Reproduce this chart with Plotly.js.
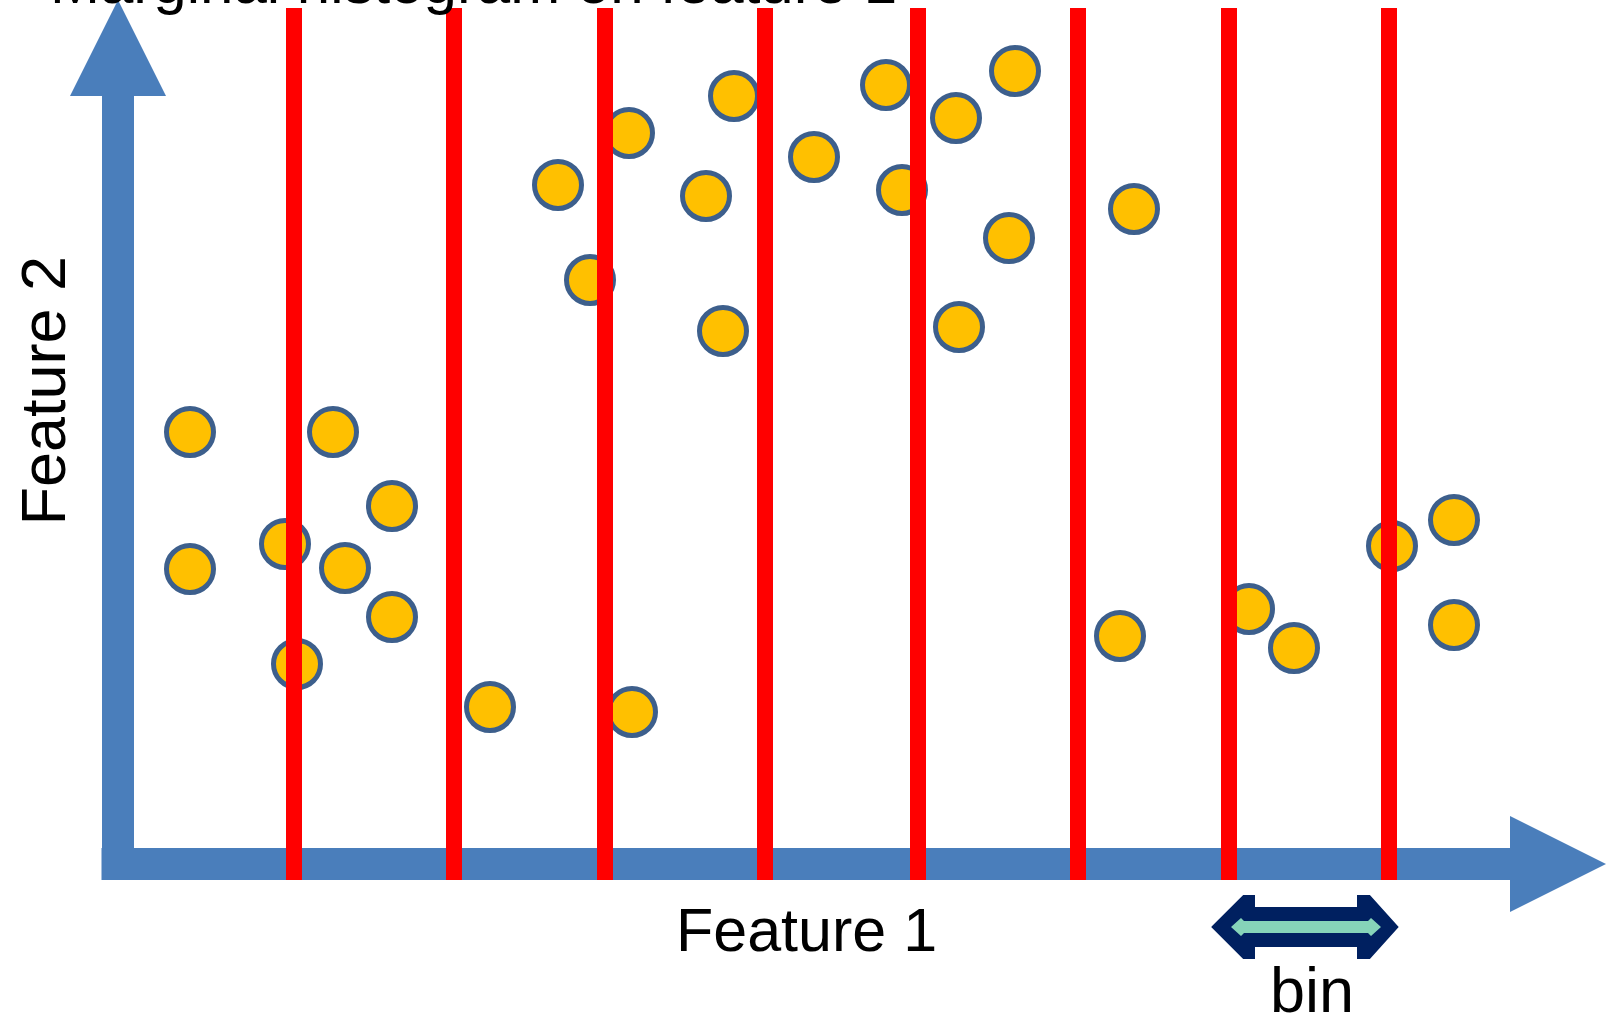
<!DOCTYPE html>
<html>
<head>
<meta charset="utf-8">
<script src="https://cdn.plot.ly/plotly-3.0.1.min.js"></script>
<style>html,body{margin:0;padding:0;background:#fff;}#chart{width:1608px;height:1017px;}</style>
</head>
<body>
<div id="chart"></div>
<script>
// ---- data (feature units; origin at the corner of the drawn axes) ----
const feature1 = [0.72, 2.15, 2.74, 1.67, 0.72, 2.27, 2.74, 1.79, 3.72, 5.14,
                  4.40, 4.72, 5.11, 5.88, 6.16, 6.05, 6.96, 7.68, 7.84, 8.38,
                  8.97, 8.91, 8.41, 10.16, 10.02, 11.31, 11.76, 12.74, 13.36, 13.36];
const feature2 = [4.32, 4.32, 3.58, 3.20, 2.95, 2.96, 2.47, 2.00, 1.57, 1.52,
                  6.79, 5.84, 7.31, 6.68, 7.68, 5.33, 7.07, 7.79, 6.74, 7.46,
                  7.93, 6.26, 5.37, 6.55, 2.28, 2.55, 2.16, 3.18, 3.44, 2.39];
const binEdges = [1.76, 3.36, 4.87, 6.47, 8.00, 9.60, 11.11, 12.71];
const binLineTop = 8.56;
const binLineBottom = -0.16;

const titleText = "Marginal histogram on feature 1";
const xLabel = "Feature 1";
const yLabel = "Feature 2";
const binLabel = "bin";

// ---- layout helpers ----
const W = 1608, H = 1017;
const OX = 118, OY = 864, UNIT = 100;   // pixel position of origin, pixels per unit
const X = px => (px - OX) / UNIT;
const Y = py => (OY - py) / UNIT;
const path = pts => 'M' + pts.map(p => X(p[0]) + ',' + Y(p[1])).join(' L') + ' Z';
const FONT = 'Liberation Sans, Arial, sans-serif';

const AXIS_BLUE = '#4A7EBB';
const NAVY = '#002060';
const TEAL = '#86D4B9';

// bin arrow anchored on the last bin
const bL = OX + binEdges[6] * UNIT, bR = OX + binEdges[7] * UNIT;
const aL = bL - 15, aR = bR + 7, aC = 927;
const navyArrow = [[aL, aC], [aL + 30, aC - 30], [aL + 39, aC - 30], [aL + 39, aC - 18],
                   [aR - 37, aC - 18], [aR - 37, aC - 30], [aR - 27, aC - 30], [aR, aC],
                   [aR - 27, aC + 30], [aR - 37, aC + 30], [aR - 37, aC + 18],
                   [aL + 39, aC + 18], [aL + 39, aC + 30], [aL + 30, aC + 30]];
const tL = aL + 17, tR = aR - 15;
const tealArrow = [[tL, aC], [tL + 10, aC - 9], [tL + 13, aC - 6], [tR - 13, aC - 6],
                   [tR - 10, aC - 9], [tR, aC], [tR - 10, aC + 9], [tR - 13, aC + 6],
                   [tL + 13, aC + 6], [tL + 10, aC + 9]];

const shapes = [
  { type: 'path', xref: 'x', yref: 'y', layer: 'below',
    path: path([[101.5, 848], [1510, 848], [1510, 816], [1606, 864], [1510, 912], [1510, 880], [101.5, 880]]),
    fillcolor: AXIS_BLUE, line: { width: 0 } },
  { type: 'path', xref: 'x', yref: 'y', layer: 'below',
    path: path([[102, 880], [102, 96], [70, 96], [118, 0], [166, 96], [134, 96], [134, 880]]),
    fillcolor: AXIS_BLUE, line: { width: 0 } },
  { type: 'path', xref: 'x', yref: 'y', layer: 'above',
    path: path(navyArrow), fillcolor: NAVY, line: { color: NAVY, width: 4 } },
  { type: 'path', xref: 'x', yref: 'y', layer: 'above',
    path: path(tealArrow), fillcolor: TEAL, line: { width: 0 } }
];

const lineX = [], lineY = [];
binEdges.forEach(e => { lineX.push(e, e, null); lineY.push(binLineTop, binLineBottom, null); });

const traces = [
  { type: 'scatter', mode: 'markers', x: feature1, y: feature2, hoverinfo: 'skip',
    marker: { size: 47, color: '#FFC000', line: { color: '#3D5F8C', width: 5 } } },
  { type: 'scatter', mode: 'lines', x: lineX, y: lineY, hoverinfo: 'skip',
    line: { color: '#FF0000', width: 16 } }
];

const ann = (text, px, py, size, extra) => Object.assign({
  text: text, xref: 'paper', yref: 'paper', x: px / W, y: 1 - py / H,
  xanchor: 'center', yanchor: 'middle', showarrow: false,
  font: { family: FONT, size: size, color: '#000000' }
}, extra || {});

const layout = {
  width: W, height: H,
  margin: { l: 0, r: 0, t: 0, b: 0 },
  paper_bgcolor: '#ffffff', plot_bgcolor: '#ffffff',
  showlegend: false,
  xaxis: { range: [X(0), X(W)], visible: false, showgrid: false, zeroline: false, fixedrange: true },
  yaxis: { range: [Y(H), Y(0)], visible: false, showgrid: false, zeroline: false, fixedrange: true },
  shapes: shapes,
  annotations: [
    ann(titleText, 48, -17.5, 60, { xanchor: 'left' }),
    ann(xLabel, 806.5, 930, 61),
    ann(yLabel, 43, 390.6, 63, { textangle: -90 }),
    ann(binLabel, 1311.7, 990, 63)
  ]
};

Plotly.newPlot('chart', traces, layout, { displayModeBar: false, staticPlot: true });
</script>
</body>
</html>
